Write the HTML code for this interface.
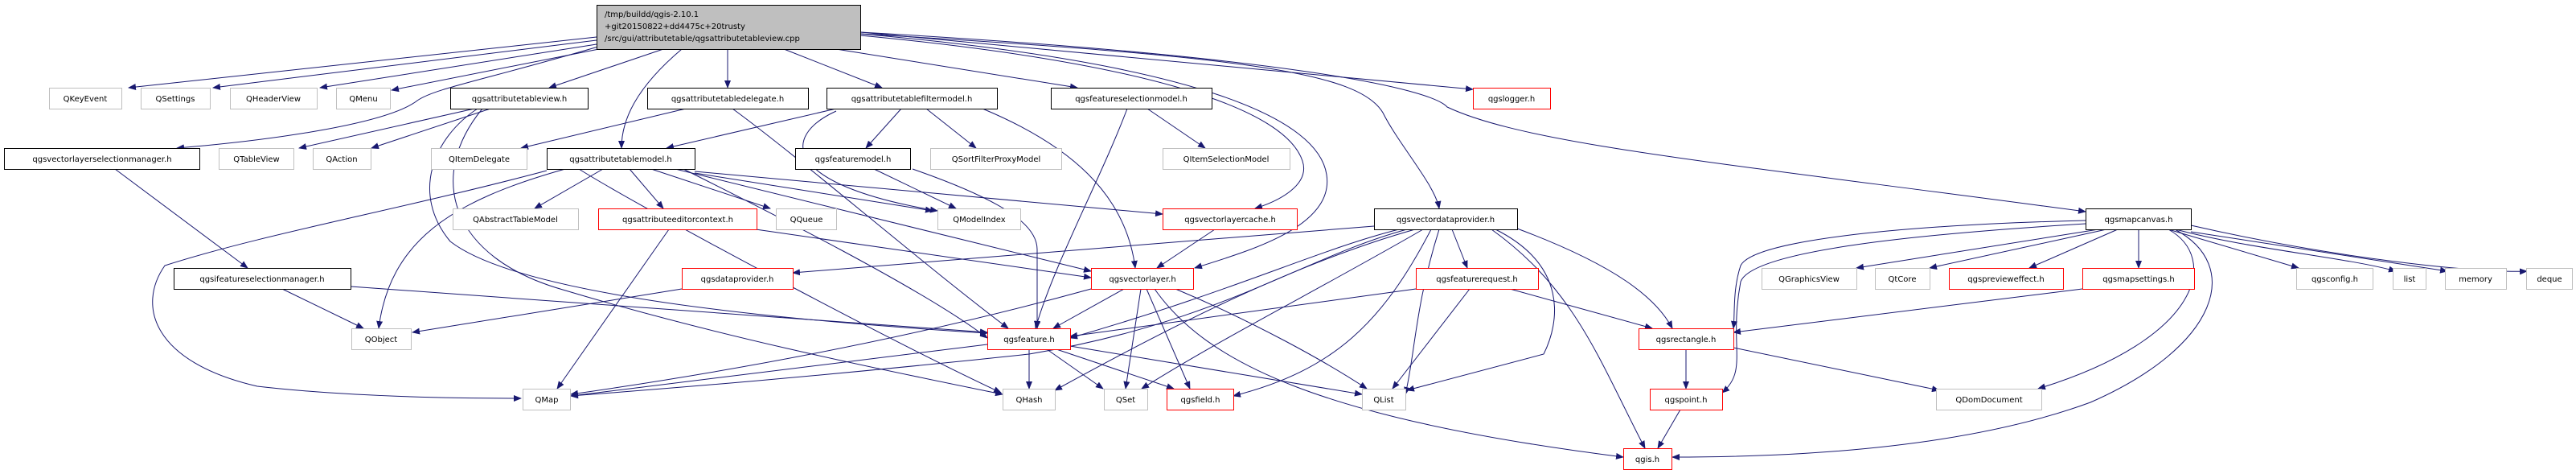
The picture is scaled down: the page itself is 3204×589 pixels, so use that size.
<!DOCTYPE html>
<html><head><meta charset="utf-8"><style>
html,body{margin:0;padding:0;background:#fff;}
svg{display:block}
text{font-family:"DejaVu Sans","Liberation Sans",sans-serif;font-size:10px;fill:#000}
.g{fill:#fff;stroke:#bfbfbf}
.b{fill:#fff;stroke:#000}
.r{fill:#fff;stroke:#ff0000}
.e{fill:none;stroke:#191970;stroke-width:1}
</style></head><body>
<svg width="3204" height="589" viewBox="0 0 3204 589" xmlns="http://www.w3.org/2000/svg">
<defs><marker id="a" markerWidth="10" markerHeight="8" refX="9" refY="4" orient="auto" markerUnits="userSpaceOnUse"><path d="M0,0 L10,4 L0,8 z" fill="#191970"/></marker></defs>
<g class="e" marker-end="url(#a)">
<path d="M742,46 L160,109"/>
<path d="M742,50 L265,109"/>
<path d="M742,55 L398,109"/>
<path d="M750,60 L487,112"/>
<path d="M744,58 C600,100 540,110 519,125 C480,155 330,175 220,184"/>
<path d="M825,61 L683,109"/>
<path d="M848,61 C790,110 773,150 773,184"/>
<path d="M905,61 L905,109"/>
<path d="M975,61 L1097,109"/>
<path d="M1040,61 L1340,109"/>
<path d="M1070,40 L1832,111"/>
<path d="M1070,44 C1450,80 1600,140 1620,200 C1630,230 1590,250 1561,259"/>
<path d="M1070,42 C1500,80 1640,150 1650,217 C1660,280 1560,310 1486,333"/>
<path d="M1070,42 C1550,70 1690,90 1720,140 C1740,180 1785,230 1790,259"/>
<path d="M1070,40 C1600,70 1780,110 1800,133 C1900,180 2140,202 2594,263"/>
<path d="M590,135 L372,184"/>
<path d="M610,135 L462,184"/>
<path d="M594,135 C540,170 510,240 560,300 C650,370 1000,400 1228,414"/>
<path d="M600,135 C530,220 560,320 700,360 C900,420 1100,460 1247,490"/>
<path d="M853,135 L648,184"/>
<path d="M911,135 C1000,200 1150,330 1254,408"/>
<path d="M1040,135 L829,184"/>
<path d="M1121,135 L1077,184"/>
<path d="M1152,135 L1214,184"/>
<path d="M1040,138 C970,170 975,230 1166,262"/>
<path d="M1222,135 C1330,180 1400,240 1412,333"/>
<path d="M1427,135 L1499,184"/>
<path d="M1402,135 C1370,220 1310,330 1288,408"/>
<path d="M1087,210 L1189,259"/>
<path d="M1135,210 C1250,250 1290,280 1290,310 L1290,408"/>
<path d="M750,210 L665,259"/>
<path d="M783,210 L825,259"/>
<path d="M810,210 L958,259"/>
<path d="M864,215 L1160,262"/>
<path d="M864,213 L1446,266"/>
<path d="M840,210 L1357,337"/>
<path d="M850,210 C950,260 1150,360 1228,420"/>
<path d="M703,210 C560,250 485,300 471,408"/>
<path d="M680,212 C500,260 330,290 205,330 C170,380 190,450 320,480 C450,495 600,495 648,495"/>
<path d="M720,210 C800,260 1100,420 1245,488"/>
<path d="M940,285 L1357,345"/>
<path d="M832,285 L693,483"/>
<path d="M143,210 L308,333"/>
<path d="M351,359 L452,408"/>
<path d="M436,356 L1228,413"/>
<path d="M848,359 L513,413"/>
<path d="M1511,285 L1439,333"/>
<path d="M1709,281 L986,339"/>
<path d="M1740,285 C1640,310 1540,360 1331,420"/>
<path d="M1750,285 C1620,320 1520,400 1280,440 C1000,470 800,485 710,492"/>
<path d="M1760,285 C1600,330 1430,420 1312,485"/>
<path d="M1770,285 C1640,360 1520,420 1420,483"/>
<path d="M1780,285 C1720,400 1660,460 1534,492"/>
<path d="M1790,285 C1760,380 1760,440 1748,490"/>
<path d="M1806,285 L1825,333"/>
<path d="M1860,285 C1950,330 1940,400 1920,440 L1750,485"/>
<path d="M1887,284 C2010,330 2060,370 2080,408"/>
<path d="M1855,285 C1960,360 1990,450 2046,557"/>
<path d="M1398,359 L1310,408"/>
<path d="M1357,359 C1100,430 850,470 710,490"/>
<path d="M1419,359 L1400,483"/>
<path d="M1426,359 L1480,483"/>
<path d="M1462,359 C1560,400 1650,450 1700,483"/>
<path d="M1436,359 C1500,450 1640,520 2019,568"/>
<path d="M1761,359 L1331,418"/>
<path d="M1828,359 L1732,483"/>
<path d="M1878,359 L2055,408"/>
<path d="M1280,434 L1280,483"/>
<path d="M1302,434 L1372,483"/>
<path d="M1314,434 L1460,483"/>
<path d="M1331,430 L1694,490"/>
<path d="M1228,428 L710,492"/>
<path d="M2097,434 L2097,483"/>
<path d="M2156,432 L2412,485"/>
<path d="M2090,509 L2062,557"/>
<path d="M2610,285 L2309,333"/>
<path d="M2620,285 L2400,333"/>
<path d="M2634,285 L2524,333"/>
<path d="M2660,285 L2660,333"/>
<path d="M2697,285 L2859,333"/>
<path d="M2706,285 C2800,310 2920,320 2980,337"/>
<path d="M2725,288 L3044,337"/>
<path d="M2725,280 C2900,320 3080,340 3143,337"/>
<path d="M2594,274 C2350,280 2180,300 2165,330 C2155,360 2158,390 2156,408"/>
<path d="M2594,278 C2400,290 2180,310 2165,350 C2150,430 2175,460 2142,488"/>
<path d="M2697,285 C2760,320 2740,420 2535,483"/>
<path d="M2705,285 C2790,330 2760,430 2600,500 C2450,555 2250,568 2080,568"/>
<path d="M2590,359 L2156,413"/>
</g>
<g>
<rect x="742.5" y="6.5" width="328" height="55" fill="#bfbfbf" stroke="#000"/>
<text x="752" y="21">/tmp/buildd/qgis-2.10.1</text>
<text x="752" y="36">+git20150822+dd4475c+20trusty</text>
<text x="752" y="51">/src/gui/attributetable/qgsattributetableview.cpp</text>
</g>
<g text-anchor="middle">
<rect class="g" x="61.5" y="109.5" width="90" height="26"/><text x="106" y="126">QKeyEvent</text>
<rect class="g" x="175.5" y="109.5" width="86" height="26"/><text x="218" y="126">QSettings</text>
<rect class="g" x="286.5" y="109.5" width="108" height="26"/><text x="340" y="126">QHeaderView</text>
<rect class="g" x="418.5" y="109.5" width="67" height="26"/><text x="452" y="126">QMenu</text>
<rect class="b" x="560.5" y="109.5" width="171" height="26"/><text x="646" y="126">qgsattributetableview.h</text>
<rect class="b" x="805.5" y="109.5" width="200" height="26"/><text x="905" y="126">qgsattributetabledelegate.h</text>
<rect class="b" x="1028.5" y="109.5" width="212" height="26"/><text x="1134" y="126">qgsattributetablefiltermodel.h</text>
<rect class="b" x="1307.5" y="109.5" width="200" height="26"/><text x="1407" y="126">qgsfeatureselectionmodel.h</text>
<rect class="r" x="1832.5" y="109.5" width="96" height="26"/><text x="1880" y="126">qgslogger.h</text>

<rect class="b" x="5.5" y="184.5" width="243" height="26"/><text x="127" y="201">qgsvectorlayerselectionmanager.h</text>
<rect class="g" x="272.5" y="184.5" width="93" height="26"/><text x="319" y="201">QTableView</text>
<rect class="g" x="389.5" y="184.5" width="72" height="26"/><text x="425" y="201">QAction</text>
<rect class="g" x="536.5" y="184.5" width="119" height="26"/><text x="596" y="201">QItemDelegate</text>
<rect class="b" x="680.5" y="184.5" width="184" height="26"/><text x="772" y="201">qgsattributetablemodel.h</text>
<rect class="b" x="989.5" y="184.5" width="143" height="26"/><text x="1061" y="201">qgsfeaturemodel.h</text>
<rect class="g" x="1157.5" y="184.5" width="163" height="26"/><text x="1239" y="201">QSortFilterProxyModel</text>
<rect class="g" x="1446.5" y="184.5" width="158" height="26"/><text x="1525" y="201">QItemSelectionModel</text>

<rect class="g" x="563.5" y="259.5" width="156" height="26"/><text x="641" y="276">QAbstractTableModel</text>
<rect class="r" x="744.5" y="259.5" width="197" height="26"/><text x="843" y="276">qgsattributeeditorcontext.h</text>
<rect class="g" x="965.5" y="259.5" width="75" height="26"/><text x="1003" y="276">QQueue</text>
<rect class="g" x="1166.5" y="259.5" width="103" height="26"/><text x="1218" y="276">QModelIndex</text>
<rect class="r" x="1446.5" y="259.5" width="167" height="26"/><text x="1530" y="276">qgsvectorlayercache.h</text>
<rect class="b" x="1709.5" y="259.5" width="178" height="26"/><text x="1798" y="276">qgsvectordataprovider.h</text>
<rect class="b" x="2594.5" y="259.5" width="131" height="26"/><text x="2660" y="276">qgsmapcanvas.h</text>

<rect class="b" x="216.5" y="333.5" width="220" height="26"/><text x="326" y="350">qgsifeatureselectionmanager.h</text>
<rect class="r" x="848.5" y="333.5" width="138" height="26"/><text x="917" y="350">qgsdataprovider.h</text>
<rect class="r" x="1357.5" y="333.5" width="127" height="26"/><text x="1421" y="350">qgsvectorlayer.h</text>
<rect class="r" x="1761.5" y="333.5" width="152" height="26"/><text x="1837" y="350">qgsfeaturerequest.h</text>
<rect class="g" x="2191.5" y="333.5" width="118" height="26"/><text x="2250" y="350">QGraphicsView</text>
<rect class="g" x="2332.5" y="333.5" width="68" height="26"/><text x="2366" y="350">QtCore</text>
<rect class="r" x="2424.5" y="333.5" width="142" height="26"/><text x="2495" y="350">qgspreviewеffect.h</text>
<rect class="r" x="2590.5" y="333.5" width="139" height="26"/><text x="2660" y="350">qgsmapsettings.h</text>
<rect class="g" x="2856.5" y="333.5" width="95" height="26"/><text x="2904" y="350">qgsconfig.h</text>
<rect class="g" x="2976.5" y="333.5" width="41" height="26"/><text x="2997" y="350">list</text>
<rect class="g" x="3041.5" y="333.5" width="76" height="26"/><text x="3079" y="350">memory</text>
<rect class="g" x="3142.5" y="333.5" width="57" height="26"/><text x="3171" y="350">deque</text>

<rect class="g" x="437.5" y="408.5" width="74" height="26"/><text x="474" y="425">QObject</text>
<rect class="r" x="1228.5" y="408.5" width="103" height="26"/><text x="1280" y="425">qgsfeature.h</text>
<rect class="r" x="2038.5" y="408.5" width="118" height="26"/><text x="2097" y="425">qgsrectangle.h</text>

<rect class="g" x="650.5" y="483.5" width="59" height="26"/><text x="680" y="500">QMap</text>
<rect class="g" x="1247.5" y="483.5" width="65" height="26"/><text x="1280" y="500">QHash</text>
<rect class="g" x="1373.5" y="483.5" width="54" height="26"/><text x="1400" y="500">QSet</text>
<rect class="r" x="1451.5" y="483.5" width="83" height="26"/><text x="1493" y="500">qgsfield.h</text>
<rect class="g" x="1694.5" y="483.5" width="54" height="26"/><text x="1721" y="500">QList</text>
<rect class="r" x="2052.5" y="483.5" width="90" height="26"/><text x="2097" y="500">qgspoint.h</text>
<rect class="g" x="2408.5" y="483.5" width="131" height="26"/><text x="2474" y="500">QDomDocument</text>

<rect class="r" x="2019.5" y="557.5" width="60" height="26"/><text x="2049" y="574">qgis.h</text>
</g>
</svg>
</body></html>
